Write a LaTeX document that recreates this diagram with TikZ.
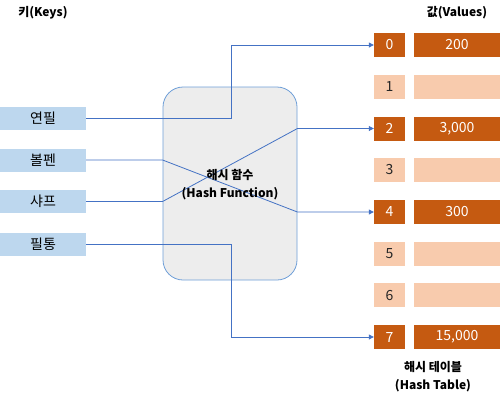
\documentclass[tikz,border=0pt]{standalone}
\usepackage{fontspec}
\setmainfont{Noto Sans CJK KR}
\usetikzlibrary{arrows.meta}
\definecolor{keyblue}{HTML}{BDD7EE}
\definecolor{dorange}{HTML}{C55A11}
\definecolor{lorange}{HTML}{F8CBAD}
\definecolor{boxgray}{HTML}{EDEDED}
\definecolor{boxblue}{HTML}{6F9FD8}
\definecolor{lineblue}{HTML}{4472C4}
\begin{document}
\begin{tikzpicture}[x=1pt,y=-1pt,
  key/.style={fill=keyblue, minimum width=86pt, minimum height=23pt, inner sep=0pt, font=\fontsize{14}{16}\selectfont},
  idx/.style={minimum width=31pt, minimum height=24pt, inner sep=0pt, font=\fontsize{14}{16}\selectfont},
  val/.style={minimum width=86pt, minimum height=24pt, inner sep=0pt, font=\fontsize{14}{16}\selectfont},
  full/.style={fill=dorange, text=white},
  emptyslot/.style={fill=lorange, text=black!85},
  title/.style={font=\fontsize{12}{18}\selectfont\bfseries, align=center, inner sep=0pt},
  conn/.style={draw=lineblue, line width=0.8pt},
  arr/.style={conn, -{Triangle[length=5pt,width=5pt]}}
]
\useasboundingbox (0,0) rectangle (500,400);

% titles
\node[title] (tk) at (43,13) {키(Keys)};
\node[title] (tv) at (457,13) {값(Values)};
\node[title] (tt) at (433,377) {해시 테이블\\(Hash Table)};

% keys
\node[key] (k1) at (43,118.5) {연필};
\node[key] (k2) at (43,160) {볼펜};
\node[key] (k3) at (43,201.5) {샤프};
\node[key] (k4) at (43,244) {필통};

% hash function box
\node[draw=boxblue, fill=boxgray, line width=0.8pt, rounded corners=20pt, minimum width=134pt, minimum height=193pt] (hf) at (230,183.5) {};

% table
\foreach \i/\y/\v/\s in {0/45/200/full, 1/87//emptyslot, 2/128.5/{3,000}/full, 3/170//emptyslot, 4/212/300/full, 5/254//emptyslot, 6/295//emptyslot, 7/337/{15,000}/full}{
  \node[idx,\s] (i\i) at (389.5,\y) {\i};
  \node[val,\s] (v\i) at (457,\y) {\v};
}

% connectors
\coordinate (j1) at (231,118.5);
\coordinate (j4) at (231,244);
\draw[arr] (k1.east) -- (j1) |- (i0.west);
\draw[arr] (k2.east) -- (k2.east -| hf.west) -- (hf.east |- i4.west) -- (i4.west);
\draw[arr] (k3.east) -- (k3.east -| hf.west) -- (hf.east |- i2.west) -- (i2.west);
\draw[arr] (k4.east) -- (j4) |- (i7.west);

\node[title] (hft) at (230,184.5) {해시 함수\\(Hash Function)};
\end{tikzpicture}
\end{document}
